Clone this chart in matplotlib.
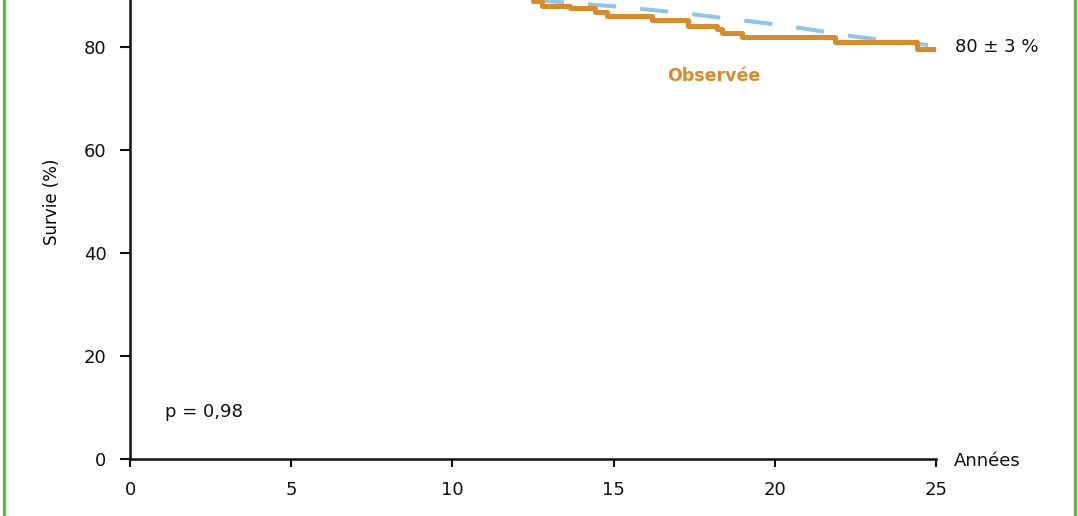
import matplotlib.pyplot as plt
from matplotlib.lines import Line2D

# observed survival (Kaplan-Meier steps), years / %
obs_t = [0, 1.5, 3.0, 4.5, 6.0, 7.5, 9.0, 10.2, 11.3, 12.1, 12.5, 12.78, 13.65,
         14.42, 14.80, 16.19, 17.31, 18.21, 18.36, 18.98, 21.87, 24.41, 25]
obs_s = [100, 99.3, 98.5, 97.6, 96.6, 95.5, 94.3, 93.0, 91.6, 90.3, 89.0, 88.0, 87.5,
         86.8, 86.0, 85.2, 84.1, 83.4, 82.7, 81.9, 81.0, 79.6, 79.6]

# expected survival (general population)
exp_t = [0, 5, 10, 13, 15, 17, 20, 21.1, 22.5, 25]
exp_s = [100, 96.5, 92.0, 88.9, 87.9, 86.7, 84.4, 83.4, 82.0, 80.2]

xticks = [0, 5, 10, 15, 20, 25]
yticks = [0, 20, 40, 60, 80]

fig = plt.figure(figsize=(10.78, 5.16), dpi=100)
ax = fig.add_axes([130 / 1078, 57 / 516, 806 / 1078, 515 / 516])

orange = '#d98b2a'
blue = '#8cc4ea'

ax.plot(exp_t, exp_s, color=blue, lw=2.9, dashes=(7, 6), zorder=2)
ax.step(obs_t, obs_s, where='post', color=orange, lw=3.6, zorder=3)

ax.set_xlim(0, 25)
ax.set_ylim(0, 100)
ax.set_xticks(xticks)
ax.set_yticks(yticks)

for side in ['top', 'right']:
    ax.spines[side].set_visible(False)
for side in ['left', 'bottom']:
    ax.spines[side].set_linewidth(1.8)
    ax.spines[side].set_color('#111111')
ax.tick_params(axis='y', length=7, width=1.5, labelsize=13, pad=10, colors='#111111')
ax.tick_params(axis='x', length=6, width=1.5, labelsize=13, pad=10, colors='#111111')

ax.set_ylabel('Survie (%)', fontsize=12, labelpad=16)

ax.text(18.1, 74.4, 'Observée', color=orange, fontsize=12.5, fontweight='bold',
        ha='center', va='center')
ax.text(25.6, 80, '80 ± 3 %', fontsize=13, ha='left', va='center', color='#111111')
ax.text(1.1, 9.1, 'p = 0,98', fontsize=13, ha='left', va='center', color='#111111')
ax.text(25.55, -0.3, 'Années', fontsize=13, ha='left', va='center', color='#111111')

# green frame sides
fig.add_artist(Line2D([3.5 / 1078, 3.5 / 1078], [0, 1], color='#6db144', lw=2.4))
fig.add_artist(Line2D([1074.5 / 1078, 1074.5 / 1078], [0, 1], color='#6db144', lw=2.4))

fig.savefig('out.png', dpi=100)
